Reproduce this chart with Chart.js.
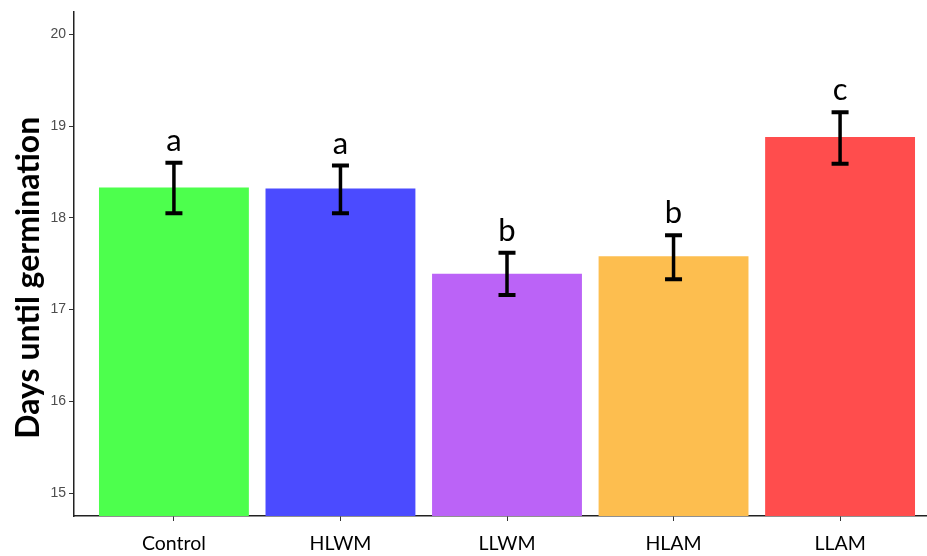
<!DOCTYPE html>
<html>
<head>
<meta charset="utf-8">
<script src="https://cdn.jsdelivr.net/npm/chart.js@4.4.1/dist/chart.umd.min.js"></script>
<style>
  html, body { margin: 0; padding: 0; background: #fff; overflow: hidden; }
  #wrap { width: 945px; height: 556px; }
</style>
</head>
<body>
<div id="wrap"><canvas id="c" width="945" height="556"></canvas></div>
<script>
// Mean days until germination per treatment, with standard-error bounds
const categories = ['Control', 'HLWM', 'LLWM', 'HLAM', 'LLAM'];
const meanDays   = [18.33, 18.32, 17.39, 17.58, 18.88];
const lowerBound = [18.05, 18.05, 17.16, 17.33, 18.59];
const upperBound = [18.60, 18.57, 17.62, 17.81, 19.15];
const groupLetters = ['a', 'a', 'b', 'b', 'c'];
const barColors  = ['#4DFF4D', '#4B4BFF', '#BB63F7', '#FDBE4F', '#FF4D4D'];
const yTicks     = [15, 16, 17, 18, 19, 20];
const yTitle     = 'Days until germination';

// Error bars and significance letters drawn on top of the bars
const errorBarPlugin = {
  id: 'errorBars',
  afterDatasetsDraw(chart) {
    const { ctx, scales: { x, y } } = chart;
    ctx.save();
    ctx.strokeStyle = '#000';
    ctx.lineCap = 'butt';
    categories.forEach((_, i) => {
      const px = x.getPixelForValue(i);
      const top = y.getPixelForValue(upperBound[i]);
      const bot = y.getPixelForValue(lowerBound[i]);
      const half = 8.5;
      ctx.lineWidth = 3.5;
      ctx.beginPath();
      ctx.moveTo(px, top);
      ctx.lineTo(px, bot);
      ctx.stroke();
      ctx.lineWidth = 4;
      ctx.beginPath();
      ctx.moveTo(px - half, top);
      ctx.lineTo(px + half, top);
      ctx.moveTo(px - half, bot);
      ctx.lineTo(px + half, bot);
      ctx.stroke();
      ctx.fillStyle = '#000';
      ctx.font = '31px Lato, "Open Sans", sans-serif';
      ctx.textAlign = 'center';
      ctx.textBaseline = 'alphabetic';
      ctx.fillText(groupLetters[i], px, top - 12);
    });
    ctx.restore();
  }
};

// Rotated y-axis title, centred slightly below the middle of the axis
const yTitlePlugin = {
  id: 'yTitle',
  afterDraw(chart) {
    const { ctx, chartArea } = chart;
    ctx.save();
    ctx.translate(29, (chartArea.top + chartArea.bottom) / 2 + 14);
    ctx.rotate(-Math.PI / 2);
    ctx.fillStyle = '#000';
    ctx.font = 'bold 32px Lato, "Open Sans", sans-serif';
    ctx.textAlign = 'center';
    ctx.textBaseline = 'middle';
    ctx.fillText(yTitle, 0, 0);
    ctx.restore();
  }
};

new Chart(document.getElementById('c'), {
  type: 'bar',
  data: {
    datasets: [{
      data: meanDays.map((v, i) => ({ x: i, y: v })),
      backgroundColor: barColors,
      borderWidth: 0,
      barPercentage: 0.9,
      categoryPercentage: 1.0
    }]
  },
  options: {
    responsive: false,
    devicePixelRatio: 1,
    animation: false,
    layout: { padding: { top: 8, right: 5, bottom: 0, left: 0 } },
    plugins: { legend: { display: false }, tooltip: { enabled: false } },
    scales: {
      x: {
        type: 'linear',
        offset: false,
        min: -0.6,
        max: 4.6,
        afterBuildTicks: (s) => { s.ticks = categories.map((_, i) => ({ value: i })); },
        afterFit: (s) => { s.height = 40; },
        ticks: {
          callback: (v) => categories[v] ?? '',
          color: '#000',
          font: { family: 'Lato, "Open Sans", sans-serif', size: 19.5 },
          padding: 11,
          maxRotation: 0,
          autoSkip: false
        },
        grid: { display: true, offset: false, drawOnChartArea: false, drawTicks: true, tickLength: 5, color: '#333', lineWidth: 1 },
        border: { display: true, color: '#222', width: 1.5 }
      },
      y: {
        min: 14.75,
        max: 20.25,
        afterBuildTicks: (s) => { s.ticks = yTicks.map(v => ({ value: v })); },
        afterFit: (s) => { s.width = 74; },
        ticks: {
          color: '#4D4D4D',
          font: { family: '"Liberation Sans", Arial, sans-serif', size: 14 },
          padding: 3
        },
        grid: { display: true, drawOnChartArea: false, drawTicks: true, tickLength: 5, color: '#333', lineWidth: 1 },
        border: { display: true, color: '#222', width: 1.5 }
      }
    }
  },
  plugins: [errorBarPlugin, yTitlePlugin]
});
</script>
</body>
</html>
